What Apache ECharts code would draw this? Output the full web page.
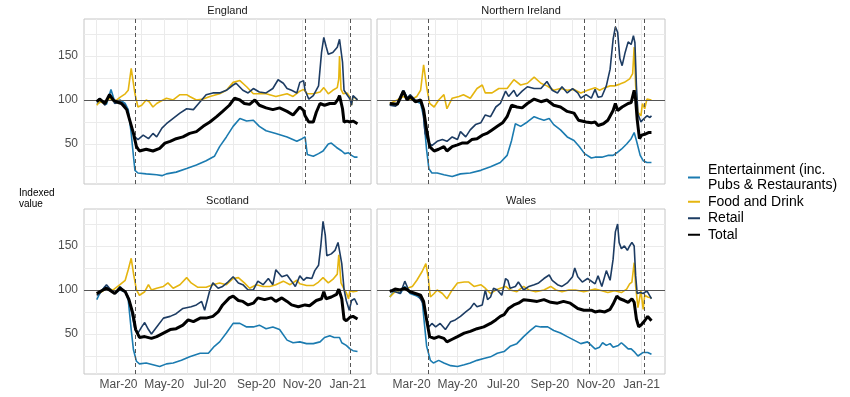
<!DOCTYPE html>
<html>
<head>
<meta charset="utf-8">
<script src="https://cdn.jsdelivr.net/npm/echarts@6/dist/echarts.min.js"></script>
<style>
  html, body { margin: 0; padding: 0; background: #fff; }
  #chart { width: 850px; height: 397px; }
</style>
</head>
<body>
<div id="chart"></div>
<script>
// indexed spending, 4 nations x 4 categories
const seriesNames = ['Entertainment (inc. Pubs & Restaurants)', 'Food and Drink', 'Retail', 'Total'];
const seriesColors = ['#1b7bb0', '#e5b50f', '#1d3c63', '#000000'];

const tickDates = ['2020-03-01', '2020-05-01', '2020-07-01', '2020-09-01', '2020-11-01', '2021-01-01'];
const tickLabels = ['Mar-20', 'May-20', 'Jul-20', 'Sep-20', 'Nov-20', 'Jan-21'];
const monthBreaks = ['2020-02-01', '2020-03-01', '2020-04-01', '2020-05-01', '2020-06-01', '2020-07-01',
  '2020-08-01', '2020-09-01', '2020-10-01', '2020-11-01', '2020-12-01', '2021-01-01'];
const yTicks = [50, 100, 150];
const yBreaks = [25, 50, 75, 100, 125, 150, 175];

const engLockdowns = ['2020-03-23', '2020-11-05', '2021-01-04'];
const niLockdowns = ['2020-03-23', '2020-10-16', '2020-11-27', '2021-01-05'];
const scoLockdowns = ['2020-03-23', '2021-01-04'];
const walLockdowns = ['2020-03-23', '2020-10-23', '2021-01-05'];

// England
const engEnt = [['2020-02-01',96],['2020-02-08',98],['2020-02-14',95],['2020-02-20',112],['2020-02-25',98],['2020-03-03',100],['2020-03-10',96],['2020-03-14',89],['2020-03-18',62],['2020-03-21',36],['2020-03-23',20],['2020-03-27',17],['2020-04-07',16],['2020-04-21',15],['2020-04-28',14],['2020-05-04',16],['2020-05-17',18],['2020-05-31',22],['2020-06-13',26],['2020-06-26',31],['2020-07-07',36],['2020-07-14',47],['2020-07-23',58],['2020-08-01',70],['2020-08-10',79],['2020-08-19',76],['2020-08-28',77],['2020-09-05',70],['2020-09-14',65],['2020-09-27',62],['2020-10-12',58],['2020-10-25',53],['2020-11-01',56],['2020-11-05',58],['2020-11-08',38],['2020-11-16',36],['2020-11-23',39],['2020-11-29',42],['2020-12-06',50],['2020-12-10',51],['2020-12-17',46],['2020-12-24',42],['2020-12-28',39],['2021-01-02',40],['2021-01-06',37],['2021-01-10',35],['2021-01-14',35]];
const engFood = [['2020-02-01',94],['2020-02-05',98],['2020-02-12',96],['2020-02-18',102],['2020-02-25',98],['2020-03-03',103],['2020-03-10',107],['2020-03-14',111],['2020-03-18',136],['2020-03-23',107],['2020-03-27',92],['2020-04-01',94],['2020-04-07',100],['2020-04-11',98],['2020-04-16',92],['2020-04-21',96],['2020-04-25',98],['2020-05-04',102],['2020-05-13',100],['2020-05-22',106],['2020-05-31',106],['2020-06-04',104],['2020-06-13',100],['2020-06-22',101],['2020-07-01',104],['2020-07-14',107],['2020-07-23',111],['2020-08-01',120],['2020-08-10',122],['2020-08-19',115],['2020-08-28',107],['2020-09-05',107],['2020-09-14',107],['2020-09-27',104],['2020-10-12',107],['2020-10-20',104],['2020-10-29',110],['2020-11-03',112],['2020-11-08',107],['2020-11-16',107],['2020-11-25',109],['2020-11-30',114],['2020-12-06',107],['2020-12-12',111],['2020-12-18',114],['2020-12-20',124],['2020-12-21',150],['2020-12-23',112],['2020-12-26',107],['2020-12-31',108],['2021-01-04',103],['2021-01-06',94],['2021-01-08',104],['2021-01-14',100]];
const engRetail = [['2020-02-01',98],['2020-02-05',102],['2020-02-12',94],['2020-02-18',107],['2020-02-25',96],['2020-03-03',98],['2020-03-10',94],['2020-03-14',85],['2020-03-18',70],['2020-03-23',58],['2020-03-27',55],['2020-04-03',60],['2020-04-10',56],['2020-04-16',62],['2020-04-21',58],['2020-04-28',68],['2020-05-04',73],['2020-05-13',79],['2020-05-22',85],['2020-05-31',90],['2020-06-09',89],['2020-06-16',96],['2020-06-20',100],['2020-06-26',106],['2020-07-05',108],['2020-07-14',108],['2020-07-23',111],['2020-08-01',117],['2020-08-05',119],['2020-08-14',111],['2020-08-21',108],['2020-08-28',113],['2020-09-05',109],['2020-09-14',108],['2020-09-23',113],['2020-09-30',123],['2020-10-07',119],['2020-10-12',113],['2020-10-18',111],['2020-10-25',108],['2020-10-29',120],['2020-11-03',122],['2020-11-05',111],['2020-11-10',101],['2020-11-16',105],['2020-11-23',116],['2020-11-27',154],['2020-11-30',171],['2020-12-03',161],['2020-12-06',152],['2020-12-12',154],['2020-12-18',160],['2020-12-21',169],['2020-12-25',143],['2020-12-27',111],['2020-12-31',106],['2021-01-04',101],['2021-01-06',94],['2021-01-08',105],['2021-01-13',101],['2021-01-14',99]];
const engTotal = [['2020-02-01',98],['2020-02-05',101],['2020-02-12',96],['2020-02-18',106],['2020-02-23',100],['2020-02-27',98],['2020-03-05',96],['2020-03-12',89],['2020-03-16',77],['2020-03-21',62],['2020-03-25',47],['2020-03-29',42],['2020-04-07',44],['2020-04-16',42],['2020-04-25',45],['2020-05-02',51],['2020-05-09',53],['2020-05-17',56],['2020-05-26',58],['2020-06-04',62],['2020-06-13',64],['2020-06-22',70],['2020-07-01',75],['2020-07-10',81],['2020-07-18',87],['2020-07-27',94],['2020-08-03',102],['2020-08-10',100],['2020-08-16',96],['2020-08-23',95],['2020-08-30',100],['2020-09-05',94],['2020-09-14',91],['2020-09-23',89],['2020-10-02',91],['2020-10-12',87],['2020-10-20',83],['2020-10-29',92],['2020-11-03',88],['2020-11-05',82],['2020-11-10',75],['2020-11-16',75],['2020-11-20',86],['2020-11-25',96],['2020-12-01',94],['2020-12-08',96],['2020-12-15',96],['2020-12-19',101],['2020-12-21',105],['2020-12-25',90],['2020-12-27',75],['2020-12-31',76],['2021-01-04',75],['2021-01-08',76],['2021-01-14',73]];

// Northern Ireland
const niEnt = [['2020-02-01',94],['2020-02-11',96],['2020-02-19',111],['2020-02-26',100],['2020-03-04',100],['2020-03-13',96],['2020-03-17',81],['2020-03-21',43],['2020-03-24',22],['2020-03-28',17],['2020-04-04',17],['2020-04-13',15],['2020-04-24',13],['2020-05-05',16],['2020-05-18',17],['2020-06-01',20],['2020-06-14',24],['2020-06-27',29],['2020-07-06',37],['2020-07-12',54],['2020-07-17',73],['2020-07-24',70],['2020-08-02',75],['2020-08-11',81],['2020-08-17',79],['2020-08-24',77],['2020-08-31',79],['2020-09-06',72],['2020-09-15',66],['2020-09-24',58],['2020-10-03',54],['2020-10-10',47],['2020-10-17',39],['2020-10-26',34],['2020-10-31',35],['2020-11-09',35],['2020-11-17',37],['2020-11-24',37],['2020-11-29',40],['2020-12-05',44],['2020-12-12',50],['2020-12-18',56],['2020-12-22',63],['2020-12-25',54],['2020-12-30',37],['2021-01-03',31],['2021-01-08',29],['2021-01-14',29]];
const niFood = [['2020-02-01',96],['2020-02-11',100],['2020-02-19',104],['2020-02-28',100],['2020-03-08',104],['2020-03-13',111],['2020-03-17',140],['2020-03-21',115],['2020-03-25',96],['2020-03-31',92],['2020-04-06',100],['2020-04-13',106],['2020-04-17',90],['2020-04-24',102],['2020-05-03',104],['2020-05-09',106],['2020-05-18',102],['2020-05-27',113],['2020-06-03',117],['2020-06-07',108],['2020-06-16',108],['2020-06-25',113],['2020-07-06',113],['2020-07-15',123],['2020-07-24',117],['2020-08-02',119],['2020-08-11',126],['2020-08-20',119],['2020-08-28',116],['2020-09-06',111],['2020-09-15',113],['2020-09-24',111],['2020-10-03',112],['2020-10-12',108],['2020-10-21',111],['2020-10-31',114],['2020-11-06',111],['2020-11-13',114],['2020-11-20',116],['2020-11-26',116],['2020-12-03',118],['2020-12-09',120],['2020-12-16',124],['2020-12-20',130],['2020-12-22',160],['2020-12-24',116],['2020-12-27',86],['2020-12-31',82],['2021-01-02',96],['2021-01-05',90],['2021-01-08',101],['2021-01-14',100]];
const niRetail = [['2020-02-01',94],['2020-02-09',93],['2020-02-15',100],['2020-02-19',111],['2020-02-24',102],['2020-02-28',106],['2020-03-06',100],['2020-03-13',98],['2020-03-16',89],['2020-03-19',62],['2020-03-24',51],['2020-03-28',48],['2020-04-04',53],['2020-04-11',55],['2020-04-17',53],['2020-04-24',58],['2020-05-01',55],['2020-05-05',64],['2020-05-12',58],['2020-05-18',66],['2020-05-25',72],['2020-06-01',74],['2020-06-07',83],['2020-06-14',81],['2020-06-21',92],['2020-06-27',96],['2020-07-04',110],['2020-07-08',104],['2020-07-15',111],['2020-07-19',104],['2020-07-26',110],['2020-08-02',115],['2020-08-11',113],['2020-08-20',113],['2020-08-28',121],['2020-09-04',111],['2020-09-11',108],['2020-09-17',115],['2020-09-24',108],['2020-10-01',113],['2020-10-08',108],['2020-10-12',102],['2020-10-19',106],['2020-10-26',102],['2020-10-31',112],['2020-11-04',103],['2020-11-09',104],['2020-11-15',116],['2020-11-20',135],['2020-11-24',169],['2020-11-27',183],['2020-11-30',177],['2020-12-03',147],['2020-12-06',139],['2020-12-10',154],['2020-12-14',166],['2020-12-18',163],['2020-12-21',173],['2020-12-23',165],['2020-12-25',116],['2020-12-27',84],['2020-12-31',75],['2021-01-03',78],['2021-01-08',82],['2021-01-12',80],['2021-01-14',82]];
const niTotal = [['2020-02-01',96],['2020-02-11',95],['2020-02-19',110],['2020-02-24',100],['2020-02-28',104],['2020-03-06',98],['2020-03-13',100],['2020-03-17',89],['2020-03-21',66],['2020-03-25',47],['2020-03-31',42],['2020-04-06',44],['2020-04-13',47],['2020-04-17',42],['2020-04-24',47],['2020-05-01',49],['2020-05-07',51],['2020-05-14',51],['2020-05-20',55],['2020-05-27',56],['2020-06-03',60],['2020-06-09',62],['2020-06-16',66],['2020-06-23',70],['2020-06-30',74],['2020-07-06',81],['2020-07-12',94],['2020-07-19',92],['2020-07-26',91],['2020-08-02',96],['2020-08-11',101],['2020-08-20',98],['2020-08-28',100],['2020-09-06',94],['2020-09-15',92],['2020-09-24',87],['2020-10-03',85],['2020-10-09',77],['2020-10-19',75],['2020-10-26',74],['2020-10-31',75],['2020-11-04',71],['2020-11-11',73],['2020-11-17',77],['2020-11-24',88],['2020-11-27',96],['2020-11-30',88],['2020-12-06',92],['2020-12-14',96],['2020-12-18',97],['2020-12-22',111],['2020-12-24',100],['2020-12-26',78],['2020-12-29',56],['2021-01-01',60],['2021-01-05',61],['2021-01-10',63],['2021-01-14',63]];

// Scotland
const scoEnt = [['2020-02-01',89],['2020-02-05',96],['2020-02-12',104],['2020-02-18',100],['2020-02-25',96],['2020-03-03',100],['2020-03-10',98],['2020-03-14',89],['2020-03-18',55],['2020-03-21',32],['2020-03-25',19],['2020-03-29',16],['2020-04-07',17],['2020-04-16',15],['2020-04-25',13],['2020-05-04',16],['2020-05-13',17],['2020-05-24',20],['2020-06-04',24],['2020-06-18',28],['2020-06-29',28],['2020-07-07',36],['2020-07-14',41],['2020-07-23',51],['2020-08-01',62],['2020-08-10',62],['2020-08-19',58],['2020-08-28',58],['2020-09-05',60],['2020-09-14',56],['2020-09-23',58],['2020-10-02',55],['2020-10-12',43],['2020-10-20',40],['2020-10-29',41],['2020-11-07',39],['2020-11-16',39],['2020-11-25',41],['2020-12-01',46],['2020-12-08',48],['2020-12-14',46],['2020-12-21',46],['2020-12-24',40],['2020-12-30',37],['2021-01-04',33],['2021-01-08',31],['2021-01-14',30]];
const scoFood = [['2020-02-01',95],['2020-02-08',98],['2020-02-14',102],['2020-02-23',100],['2020-03-03',106],['2020-03-10',111],['2020-03-14',123],['2020-03-18',136],['2020-03-21',119],['2020-03-25',100],['2020-03-29',94],['2020-04-05',98],['2020-04-10',106],['2020-04-14',100],['2020-04-21',102],['2020-04-30',104],['2020-05-06',108],['2020-05-13',102],['2020-05-22',106],['2020-05-31',114],['2020-06-06',108],['2020-06-15',103],['2020-06-26',103],['2020-07-05',106],['2020-07-14',108],['2020-07-23',106],['2020-08-01',113],['2020-08-08',114],['2020-08-16',108],['2020-08-23',102],['2020-09-01',106],['2020-09-10',104],['2020-09-19',104],['2020-09-27',106],['2020-10-07',110],['2020-10-16',106],['2020-10-25',111],['2020-10-29',107],['2020-11-07',105],['2020-11-16',105],['2020-11-23',109],['2020-11-29',114],['2020-12-06',108],['2020-12-12',112],['2020-12-18',118],['2020-12-20',140],['2020-12-23',108],['2020-12-27',101],['2020-12-30',97],['2021-01-02',90],['2021-01-04',99],['2021-01-08',98],['2021-01-14',99]];
const scoRetail = [['2020-02-01',94],['2020-02-05',96],['2020-02-14',106],['2020-02-18',102],['2020-02-25',96],['2020-03-03',104],['2020-03-10',98],['2020-03-14',92],['2020-03-18',77],['2020-03-23',55],['2020-03-27',51],['2020-04-01',58],['2020-04-05',63],['2020-04-10',55],['2020-04-14',50],['2020-04-21',58],['2020-04-30',68],['2020-05-09',70],['2020-05-17',73],['2020-05-26',79],['2020-06-06',81],['2020-06-13',83],['2020-06-20',87],['2020-06-24',77],['2020-07-01',100],['2020-07-05',108],['2020-07-12',102],['2020-07-18',104],['2020-07-25',109],['2020-08-01',115],['2020-08-08',108],['2020-08-14',106],['2020-08-21',100],['2020-08-28',100],['2020-09-03',110],['2020-09-10',106],['2020-09-17',113],['2020-09-23',106],['2020-09-27',123],['2020-10-05',115],['2020-10-12',117],['2020-10-18',110],['2020-10-23',104],['2020-10-29',116],['2020-11-03',111],['2020-11-07',114],['2020-11-14',113],['2020-11-18',122],['2020-11-23',128],['2020-11-26',150],['2020-11-29',178],['2020-12-02',162],['2020-12-04',139],['2020-12-10',141],['2020-12-15',145],['2020-12-19',154],['2020-12-21',156],['2020-12-24',130],['2020-12-27',101],['2020-12-30',88],['2021-01-03',77],['2021-01-06',88],['2021-01-10',90],['2021-01-14',83]];
const scoTotal = [['2020-02-01',96],['2020-02-05',98],['2020-02-14',102],['2020-02-18',100],['2020-02-25',96],['2020-03-03',102],['2020-03-10',98],['2020-03-15',89],['2020-03-20',74],['2020-03-24',55],['2020-03-29',46],['2020-04-05',47],['2020-04-14',45],['2020-04-21',47],['2020-04-30',51],['2020-05-09',55],['2020-05-17',56],['2020-05-26',60],['2020-06-02',66],['2020-06-09',64],['2020-06-18',68],['2020-06-26',68],['2020-07-05',70],['2020-07-12',75],['2020-07-18',83],['2020-07-27',91],['2020-08-01',93],['2020-08-08',88],['2020-08-14',87],['2020-08-21',83],['2020-08-28',85],['2020-09-03',91],['2020-09-12',89],['2020-09-21',91],['2020-09-27',87],['2020-10-05',91],['2020-10-12',87],['2020-10-18',83],['2020-10-27',81],['2020-11-05',83],['2020-11-11',82],['2020-11-20',88],['2020-11-27',90],['2020-11-30',98],['2020-12-03',90],['2020-12-10',92],['2020-12-17',95],['2020-12-20',101],['2020-12-24',90],['2020-12-27',67],['2020-12-30',65],['2021-01-04',69],['2021-01-08',70],['2021-01-14',67]];

// Wales
const walEnt = [['2020-02-01',92],['2020-02-08',100],['2020-02-15',96],['2020-02-21',104],['2020-02-28',96],['2020-03-08',93],['2020-03-15',89],['2020-03-18',62],['2020-03-21',36],['2020-03-26',20],['2020-03-30',17],['2020-04-06',20],['2020-04-13',17],['2020-04-22',14],['2020-05-01',13],['2020-05-10',15],['2020-05-18',17],['2020-05-27',20],['2020-06-05',22],['2020-06-14',24],['2020-06-23',28],['2020-07-02',30],['2020-07-10',36],['2020-07-19',39],['2020-07-28',47],['2020-08-06',54],['2020-08-13',59],['2020-08-20',58],['2020-08-29',58],['2020-09-06',54],['2020-09-15',51],['2020-09-24',47],['2020-10-03',43],['2020-10-12',39],['2020-10-21',41],['2020-10-31',33],['2020-11-06',35],['2020-11-10',40],['2020-11-15',37],['2020-11-20',39],['2020-11-24',35],['2020-12-01',37],['2020-12-05',40],['2020-12-09',37],['2020-12-14',33],['2020-12-18',33],['2020-12-23',29],['2020-12-27',25],['2021-01-03',29],['2021-01-09',29],['2021-01-14',27]];
const walFood = [['2020-02-01',92],['2020-02-08',98],['2020-02-15',100],['2020-02-24',102],['2020-03-02',104],['2020-03-08',111],['2020-03-15',121],['2020-03-20',130],['2020-03-23',115],['2020-03-26',92],['2020-03-31',96],['2020-04-04',100],['2020-04-11',96],['2020-04-17',90],['2020-04-24',100],['2020-05-01',108],['2020-05-10',109],['2020-05-16',109],['2020-05-23',104],['2020-06-01',106],['2020-06-07',102],['2020-06-14',96],['2020-06-21',100],['2020-06-27',102],['2020-07-04',104],['2020-07-10',100],['2020-07-19',98],['2020-07-28',104],['2020-08-04',100],['2020-08-13',98],['2020-08-24',100],['2020-09-02',104],['2020-09-09',100],['2020-09-17',98],['2020-09-26',100],['2020-10-05',100],['2020-10-16',98],['2020-10-31',101],['2020-11-09',99],['2020-11-17',97],['2020-11-26',99],['2020-12-05',97],['2020-12-12',101],['2020-12-16',107],['2020-12-19',109],['2020-12-22',131],['2020-12-24',104],['2020-12-27',80],['2020-12-31',99],['2021-01-03',78],['2021-01-05',94],['2021-01-09',92],['2021-01-14',91]];
const walRetail = [['2020-02-01',100],['2020-02-08',98],['2020-02-15',96],['2020-02-21',110],['2020-02-26',100],['2020-03-04',96],['2020-03-10',94],['2020-03-16',85],['2020-03-20',70],['2020-03-24',58],['2020-03-28',62],['2020-04-02',58],['2020-04-08',62],['2020-04-15',55],['2020-04-22',64],['2020-04-28',66],['2020-05-05',70],['2020-05-12',75],['2020-05-18',79],['2020-05-23',85],['2020-05-27',81],['2020-06-03',83],['2020-06-07',100],['2020-06-10',89],['2020-06-14',92],['2020-06-18',102],['2020-06-23',100],['2020-06-29',94],['2020-07-04',113],['2020-07-07',111],['2020-07-10',102],['2020-07-17',104],['2020-07-21',109],['2020-07-28',100],['2020-08-04',104],['2020-08-11',106],['2020-08-17',108],['2020-08-24',113],['2020-08-31',117],['2020-09-04',111],['2020-09-11',106],['2020-09-17',104],['2020-09-24',108],['2020-10-01',115],['2020-10-04',125],['2020-10-08',115],['2020-10-14',109],['2020-10-21',113],['2020-10-31',107],['2020-11-04',116],['2020-11-09',104],['2020-11-15',122],['2020-11-20',111],['2020-11-24',135],['2020-11-27',166],['2020-11-30',175],['2020-12-02',154],['2020-12-05',147],['2020-12-09',150],['2020-12-13',145],['2020-12-16',150],['2020-12-19',154],['2020-12-22',150],['2020-12-24',116],['2020-12-26',96],['2020-12-30',97],['2021-01-03',96],['2021-01-08',99],['2021-01-12',93],['2021-01-14',90]];
const walTotal = [['2020-02-01',98],['2020-02-08',101],['2020-02-15',100],['2020-02-21',102],['2020-02-28',98],['2020-03-06',96],['2020-03-13',94],['2020-03-17',87],['2020-03-21',66],['2020-03-25',47],['2020-03-31',45],['2020-04-06',47],['2020-04-13',45],['2020-04-17',41],['2020-04-24',44],['2020-05-01',47],['2020-05-10',51],['2020-05-18',53],['2020-05-27',56],['2020-06-05',58],['2020-06-14',62],['2020-06-21',66],['2020-06-27',70],['2020-07-02',72],['2020-07-08',79],['2020-07-15',83],['2020-07-21',85],['2020-07-28',89],['2020-08-06',88],['2020-08-15',87],['2020-08-24',89],['2020-09-02',86],['2020-09-11',85],['2020-09-19',87],['2020-09-28',85],['2020-10-08',79],['2020-10-16',77],['2020-10-26',77],['2020-10-31',75],['2020-11-06',76],['2020-11-13',75],['2020-11-20',78],['2020-11-24',84],['2020-11-29',93],['2020-12-03',90],['2020-12-09',88],['2020-12-14',86],['2020-12-19',90],['2020-12-22',86],['2020-12-25',67],['2020-12-28',58],['2021-01-01',61],['2021-01-05',65],['2021-01-09',70],['2021-01-12',67],['2021-01-14',65]];

const FONT = 'Liberation Sans, Arial, sans-serif';

// dates -> ms timestamps for a plain value axis
function ts(d) { return Date.parse(d + 'T00:00:00Z'); }
function toPoints(arr) { return arr.map(function (p) { return [ts(p[0]), p[1]]; }); }

const panels = [
  { title: 'England', box: { left: 84, top: 19, width: 287, height: 165 }, lines: [engEnt, engFood, engRetail, engTotal], lockdowns: engLockdowns, showX: false, showY: true },
  { title: 'Northern Ireland', box: { left: 377, top: 19, width: 288, height: 165 }, lines: [niEnt, niFood, niRetail, niTotal], lockdowns: niLockdowns, showX: false, showY: false },
  { title: 'Scotland', box: { left: 84, top: 209, width: 287, height: 165 }, lines: [scoEnt, scoFood, scoRetail, scoTotal], lockdowns: scoLockdowns, showX: true, showY: true },
  { title: 'Wales', box: { left: 377, top: 209, width: 288, height: 165 }, lines: [walEnt, walFood, walRetail, walTotal], lockdowns: walLockdowns, showX: true, showY: false }
];

const tickTs = tickDates.map(ts);
const grids = [], xAxes = [], yAxes = [], series = [], graphics = [];

panels.forEach(function (p, i) {
  grids.push(Object.assign({ show: true, borderColor: '#c6c6c6', borderWidth: 1, backgroundColor: 'transparent' }, p.box));

  xAxes.push({
    type: 'value', gridIndex: i,
    min: ts('2020-01-15'), max: ts('2021-02-01'),
    axisLine: { show: false },
    axisTick: { show: false, customValues: monthBreaks.map(ts) },
    splitLine: { show: true, lineStyle: { color: '#ebebeb', width: 1 } },
    axisLabel: {
      show: p.showX, customValues: tickTs,
      formatter: function (v) { return tickLabels[tickTs.indexOf(v)]; },
      color: '#4d4d4d', fontSize: 12, fontFamily: FONT, margin: 5
    }
  });

  yAxes.push({
    type: 'value', gridIndex: i, min: 4.5, max: 192,
    axisLine: { show: false },
    axisTick: { show: false, customValues: yBreaks },
    splitLine: { show: true, lineStyle: { color: '#ebebeb', width: 1 } },
    axisLabel: { show: p.showY, customValues: yTicks, color: '#4d4d4d', fontSize: 12, fontFamily: FONT, margin: 6 }
  });

  // reference lines: 100 index level and lockdown dates
  series.push({
    type: 'line', xAxisIndex: i, yAxisIndex: i, data: [], silent: true, z: 1,
    markLine: {
      silent: true, symbol: 'none', label: { show: false },
      data: [{ yAxis: 100, lineStyle: { color: '#555', type: 'solid', width: 1 } }].concat(
        p.lockdowns.map(function (d) { return { xAxis: ts(d), lineStyle: { color: '#555', type: [4, 3], width: 1 } }; })
      )
    }
  });

  p.lines.forEach(function (data, k) {
    series.push({
      name: seriesNames[k], type: 'line', xAxisIndex: i, yAxisIndex: i,
      data: toPoints(data), showSymbol: false, symbol: 'none', z: 2 + k,
      color: seriesColors[k],
      lineStyle: { color: seriesColors[k], width: k === 3 ? 3 : 1.6 }
    });
  });

  graphics.push({
    type: 'text', x: p.box.left + p.box.width / 2, y: p.box.top - 8,
    style: { text: p.title, align: 'center', verticalAlign: 'middle', fontSize: 11, fontFamily: FONT, fill: '#1a1a1a' }
  });
});

graphics.push({
  type: 'text', x: 19, y: 188,
  style: { text: 'Indexed\nvalue', align: 'left', verticalAlign: 'top', fontSize: 10, lineHeight: 11, fontFamily: FONT, fill: '#000' }
});

const chart = echarts.init(document.getElementById('chart'), null, { renderer: 'canvas' });
chart.setOption({
  animation: false,
  backgroundColor: '#fff',
  grid: grids,
  xAxis: xAxes,
  yAxis: yAxes,
  legend: {
    data: seriesNames,
    orient: 'vertical', left: 683, top: 157,
    icon: 'rect', itemWidth: 12, itemHeight: 2, itemGap: 1,
    selectedMode: false,
    formatter: function (name) {
      return name === seriesNames[0] ? 'Entertainment (inc.\nPubs & Restaurants)' : name;
    },
    textStyle: { fontSize: 14, lineHeight: 15.5, fontFamily: FONT, color: '#000', padding: [0, 0, 0, 3] }
  },
  graphic: graphics,
  series: series
});
</script>
</body>
</html>
